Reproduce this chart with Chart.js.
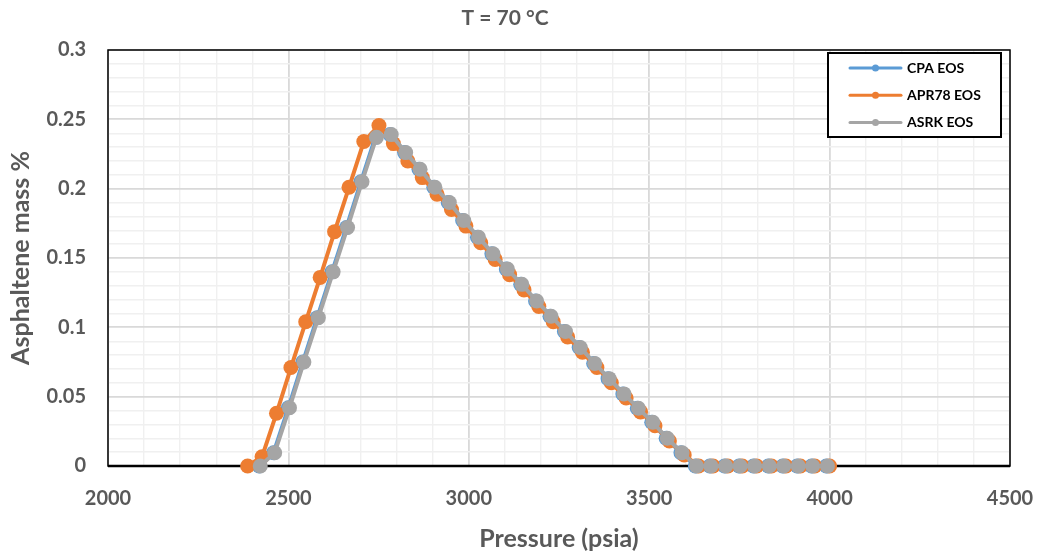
<!DOCTYPE html>
<html>
<head>
<meta charset="utf-8">
<script src="https://cdn.jsdelivr.net/npm/chart.js@4.4.1/dist/chart.umd.min.js"></script>
<style>
  html, body { margin: 0; padding: 0; background: #ffffff; }
  #wrap { width: 1038px; height: 554px; }
</style>
</head>
<body>
<div id="wrap"><canvas id="chart" width="1038" height="554"></canvas></div>
<script>
// Asphaltene precipitation at T = 70 °C for three equations of state
const chartTitle = 'T = 70 °C';
const xAxisTitle = 'Pressure (psia)';
const yAxisTitle = 'Asphaltene mass %';

const seriesNames = ['CPA EOS', 'APR78 EOS', 'ASRK EOS'];
const seriesColors = ['#5B9BD5', '#ED7D31', '#A5A5A5'];

const cpaPressure = [2419, 2459, 2500, 2540, 2580, 2621, 2661, 2701, 2741, 2782,
  2822, 2862, 2903, 2943, 2983, 3024, 3064, 3104, 3144, 3185,
  3225, 3265, 3306, 3346, 3386, 3427, 3467, 3507, 3547, 3588,
  3628, 3668, 3709, 3749, 3789, 3830, 3870, 3910, 3950, 3991];
const cpaMass = [0, 0.0096, 0.042, 0.075, 0.107, 0.140, 0.172, 0.205, 0.237, 0.239,
  0.226, 0.214, 0.201, 0.190, 0.177, 0.165, 0.153, 0.142, 0.131, 0.119,
  0.108, 0.097, 0.0855, 0.074, 0.063, 0.052, 0.0416, 0.0315, 0.020, 0.0096,
  0, 0, 0, 0, 0, 0, 0, 0, 0, 0];

const apr78Pressure = [2387, 2427, 2467, 2507, 2548, 2588, 2628, 2668, 2709, 2751,
  2791, 2831, 2871, 2912, 2952, 2992, 3033, 3073, 3113, 3153,
  3194, 3234, 3274, 3315, 3355, 3395, 3436, 3476, 3516, 3556,
  3597, 3637, 3677, 3718, 3758, 3798, 3839, 3879, 3919, 3959, 4000];
const apr78Mass = [0, 0.0067, 0.038, 0.071, 0.104, 0.136, 0.169, 0.201, 0.234, 0.2455,
  0.2325, 0.220, 0.208, 0.196, 0.185, 0.173, 0.161, 0.149, 0.138, 0.127,
  0.115, 0.104, 0.093, 0.082, 0.071, 0.060, 0.049, 0.039, 0.029, 0.018,
  0.008, 0, 0, 0, 0, 0, 0, 0, 0, 0, 0];

const asrkPressure = [2422, 2462, 2503, 2543, 2583, 2624, 2664, 2704, 2744, 2785,
  2825, 2865, 2906, 2946, 2986, 3027, 3067, 3107, 3147, 3188,
  3228, 3268, 3309, 3349, 3389, 3430, 3470, 3510, 3550, 3591,
  3631, 3671, 3712, 3752, 3792, 3833, 3873, 3913, 3953, 3994];
const asrkMass = [0, 0.0096, 0.042, 0.075, 0.107, 0.140, 0.172, 0.205, 0.237, 0.239,
  0.226, 0.214, 0.201, 0.190, 0.177, 0.165, 0.153, 0.142, 0.131, 0.119,
  0.108, 0.097, 0.0855, 0.074, 0.063, 0.052, 0.0416, 0.0315, 0.020, 0.0096,
  0, 0, 0, 0, 0, 0, 0, 0, 0, 0];

// Labelled (major) ticks and the minor gridline steps between them
const xTickValues = [2000, 2500, 3000, 3500, 4000, 4500];
const xTickLabels = ['2000', '2500', '3000', '3500', '4000', '4500'];
const yTickValues = [0, 0.05, 0.1, 0.15, 0.2, 0.25, 0.3];
const yTickLabels = ['0', '0.05', '0.1', '0.15', '0.2', '0.25', '0.3'];
const xMinorStep = 100;
const yMinorStep = 0.01;

const FONT = 'Lato, "Open Sans", sans-serif';
const TEXT = '#595959';

function toPoints(xs, ys) {
  return xs.map((x, i) => ({ x: x, y: ys[i] }));
}

function minorTicks(values, step) {
  const lo = values[0], hi = values[values.length - 1];
  const n = Math.round((hi - lo) / step);
  const out = [];
  for (let k = 0; k <= n; k++) out.push({ value: +(lo + k * step).toFixed(6) });
  return out;
}

function majorIndex(values, v) {
  return values.findIndex(t => Math.abs(t - v) < 1e-9);
}

const seriesData = [
  toPoints(cpaPressure, cpaMass),
  toPoints(apr78Pressure, apr78Mass),
  toPoints(asrkPressure, asrkMass)
];

const datasets = seriesNames.map((name, i) => ({
  label: name,
  data: seriesData[i],
  borderColor: seriesColors[i],
  backgroundColor: seriesColors[i],
  pointBackgroundColor: seriesColors[i],
  pointBorderColor: seriesColors[i],
  borderWidth: 4,
  pointRadius: 7.5,
  pointBorderWidth: 0,
  pointHoverRadius: 7.5,
  tension: 0,
  clip: false,
  order: seriesNames.length - i
}));

// Frame around the plot area, drawn under the series
const framePlugin = {
  id: 'frame',
  beforeDatasetsDraw(chart) {
    const { ctx, chartArea: a } = chart;
    ctx.save();
    ctx.strokeStyle = '#000000';
    ctx.lineWidth = 1.5;
    ctx.strokeRect(a.left, a.top, a.right - a.left, a.bottom - a.top);
    ctx.lineWidth = 2.5;
    ctx.beginPath();
    ctx.moveTo(a.left, a.bottom);
    ctx.lineTo(a.right, a.bottom);
    ctx.stroke();
    ctx.restore();
  }
};

// Chart title above the plot
const titlePlugin = {
  id: 'chartTitleText',
  afterDraw(chart) {
    const ctx = chart.ctx;
    ctx.save();
    ctx.font = 'bold 21px ' + FONT;
    ctx.fillStyle = TEXT;
    ctx.textAlign = 'center';
    ctx.textBaseline = 'middle';
    ctx.fillText(chartTitle, 505, 18);
    ctx.restore();
  }
};

// Boxed legend inside the top-right corner of the plot
const legendPlugin = {
  id: 'boxLegend',
  afterDraw(chart) {
    const ctx = chart.ctx;
    const box = { x: 828, y: 53, w: 173, h: 84 };
    ctx.save();
    ctx.fillStyle = '#ffffff';
    ctx.fillRect(box.x, box.y, box.w, box.h);
    ctx.strokeStyle = '#000000';
    ctx.lineWidth = 2;
    ctx.strokeRect(box.x, box.y, box.w, box.h);
    chart.data.datasets.forEach((ds, i) => {
      const cy = box.y + 15 + i * 27.2;
      ctx.strokeStyle = ds.borderColor;
      ctx.lineWidth = 3;
      ctx.lineCap = 'round';
      ctx.beginPath();
      ctx.moveTo(850, cy);
      ctx.lineTo(901, cy);
      ctx.stroke();
      ctx.fillStyle = ds.borderColor;
      ctx.beginPath();
      ctx.arc(875.5, cy, 3.5, 0, Math.PI * 2);
      ctx.fill();
      ctx.fillStyle = '#000000';
      ctx.font = 'bold 14px ' + FONT;
      ctx.textAlign = 'left';
      ctx.textBaseline = 'middle';
      ctx.fillText(ds.label, 907, cy + 0.5);
    });
    ctx.restore();
  }
};

new Chart(document.getElementById('chart'), {
  type: 'line',
  data: { datasets: datasets },
  options: {
    responsive: false,
    animation: false,
    layout: { padding: { top: 50, right: 28, left: 0, bottom: 0 } },
    plugins: {
      legend: { display: false },
      title: { display: false },
      tooltip: { enabled: false }
    },
    scales: {
      x: {
        type: 'linear',
        min: xTickValues[0],
        max: xTickValues[xTickValues.length - 1],
        afterBuildTicks(scale) { scale.ticks = minorTicks(xTickValues, xMinorStep); },
        afterFit(scale) {
          scale.height = 88;
          scale.paddingLeft = 0;
          scale.paddingRight = 0;
        },
        grid: {
          drawTicks: false,
          color(c) { return majorIndex(xTickValues, c.tick.value) >= 0 ? '#d9d9d9' : '#f0f0f0'; },
          lineWidth(c) { return majorIndex(xTickValues, c.tick.value) >= 0 ? 1.8 : 1.4; }
        },
        border: { display: false },
        ticks: {
          autoSkip: false,
          maxRotation: 0,
          padding: 21,
          color: TEXT,
          font: { family: FONT, size: 20, weight: 'bold' },
          callback(v) {
            const k = majorIndex(xTickValues, v);
            return k >= 0 ? xTickLabels[k] : '';
          }
        },
        title: {
          display: true,
          text: xAxisTitle,
          color: TEXT,
          font: { family: FONT, size: 25, weight: 'bold' },
          padding: { top: 0, bottom: 0 }
        }
      },
      y: {
        min: yTickValues[0],
        max: yTickValues[yTickValues.length - 1],
        afterBuildTicks(scale) { scale.ticks = minorTicks(yTickValues, yMinorStep); },
        afterFit(scale) {
          scale.width = 108;
          scale.paddingTop = 0;
          scale.paddingBottom = 0;
        },
        grid: {
          drawTicks: false,
          color(c) { return majorIndex(yTickValues, c.tick.value) >= 0 ? '#d9d9d9' : '#f0f0f0'; },
          lineWidth(c) { return majorIndex(yTickValues, c.tick.value) >= 0 ? 1.8 : 1.4; }
        },
        border: { display: false },
        ticks: {
          autoSkip: false,
          padding: 22,
          color: TEXT,
          font: { family: FONT, size: 20, weight: 'bold' },
          callback(v) {
            const k = majorIndex(yTickValues, v);
            return k >= 0 ? yTickLabels[k] : '';
          }
        },
        title: {
          display: true,
          text: yAxisTitle,
          color: TEXT,
          font: { family: FONT, size: 25, weight: 'bold' },
          padding: { top: 6, bottom: 0 }
        }
      }
    }
  },
  plugins: [framePlugin, titlePlugin, legendPlugin]
});
</script>
</body>
</html>
